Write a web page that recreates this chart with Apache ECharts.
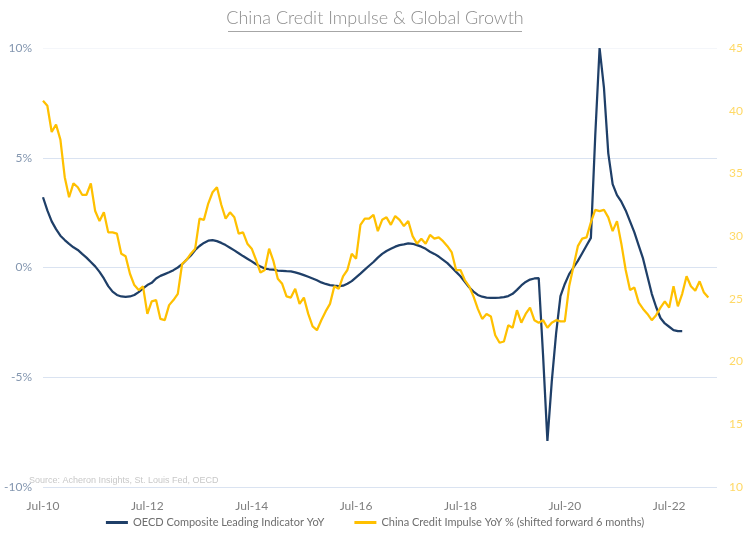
<!DOCTYPE html>
<html>
<head>
<meta charset="utf-8">
<script src="https://cdn.jsdelivr.net/npm/echarts@6/dist/echarts.min.js"></script>
<style>
html, body { margin: 0; padding: 0; background: #fff; }
#chart { width: 750px; height: 545px; }
</style>
</head>
<body>
<div id="chart"></div>
<script>
// months from Jul-10 to Jun-23
const monthNames = ["Jan", "Feb", "Mar", "Apr", "May", "Jun", "Jul", "Aug", "Sep", "Oct", "Nov", "Dec"];
const categories = [];
for (let i = 0; i < 156; i++) {
  const m = (6 + i) % 12;
  const y = 10 + Math.floor((6 + i) / 12);
  categories.push(monthNames[m] + "-" + y);
}

// OECD Composite Leading Indicator YoY (%), left axis
const oecdCli = [
  3.2, 2.6, 2.1, 1.75, 1.45, 1.25, 1.08, 0.92, 0.8, 0.62, 0.45, 0.25,
  0.05, -0.2, -0.5, -0.85, -1.1, -1.25, -1.32, -1.34, -1.32, -1.25, -1.12, -0.95,
  -0.8, -0.7, -0.5, -0.38, -0.3, -0.22, -0.12, 0.0, 0.15, 0.35, 0.55, 0.8,
  0.98, 1.12, 1.22, 1.25, 1.2, 1.12, 1.02, 0.9, 0.78, 0.65, 0.52, 0.4,
  0.28, 0.15, 0.05, -0.05, -0.08, -0.1, -0.14, -0.15, -0.17, -0.18, -0.22, -0.28,
  -0.35, -0.42, -0.5, -0.58, -0.68, -0.75, -0.8, -0.83, -0.85, -0.83, -0.74, -0.62,
  -0.45, -0.28, -0.1, 0.08, 0.25, 0.45, 0.62, 0.75, 0.85, 0.95, 1.02, 1.05,
  1.1, 1.08, 1.02, 0.95, 0.85, 0.72, 0.62, 0.5, 0.35, 0.2, 0.0, -0.2,
  -0.4, -0.65, -0.9, -1.1, -1.25, -1.33, -1.37, -1.38, -1.38, -1.37, -1.35, -1.3,
  -1.2, -1.02, -0.82, -0.66, -0.55, -0.5, -0.48, -4.0, -7.9, -5.2, -3.0, -1.3,
  -0.75, -0.3, 0.0, 0.3, 0.65, 1.0, 1.35, 6.0, 10.0, 8.2, 5.2, 3.8,
  3.3, 3.0, 2.6, 2.1, 1.6, 1.0, 0.4, -0.4, -1.2, -1.8, -2.3, -2.55,
  -2.7, -2.85, -2.9, -2.9
];

// China Credit Impulse YoY % (shifted forward 6 months), right axis
const chinaImpulse = [
  40.8, 40.4, 38.3, 38.9, 37.7, 34.7, 33.1, 34.2, 33.9, 33.3, 33.3, 34.2,
  32.0, 31.2, 31.9, 30.3, 30.3, 30.2, 28.6, 28.4, 27.0, 26.1, 25.7, 26.0,
  23.8, 24.8, 24.9, 23.4, 23.3, 24.5, 24.9, 25.4, 27.8, 28.1, 28.6, 29.0,
  31.4, 31.3, 32.6, 33.5, 33.9, 32.5, 31.4, 31.9, 31.5, 30.2, 30.3, 29.4,
  29.0, 28.1, 27.1, 27.3, 29.0, 28.0, 26.6, 26.2, 25.2, 25.1, 25.8, 24.6,
  25.1, 23.8, 22.8, 22.5, 23.3, 24.0, 24.6, 26.0, 25.8, 26.8, 27.3, 28.6,
  28.2, 30.9, 31.4, 31.4, 31.7, 30.4, 31.3, 31.5, 30.9, 31.6, 31.3, 30.8,
  31.2, 30.0, 29.4, 29.8, 29.4, 30.1, 29.8, 29.9, 29.6, 29.2, 28.7, 27.3,
  27.3, 26.5, 26.0, 25.2, 24.2, 23.4, 23.8, 23.6, 22.1, 21.5, 21.6, 22.9,
  22.7, 24.1, 23.1, 23.8, 24.3, 23.3, 23.1, 23.3, 22.7, 23.1, 23.3, 23.2,
  23.2, 26.0, 27.6, 29.2, 29.8, 29.9, 31.1, 32.1, 32.0, 32.1, 31.5, 30.4,
  31.2, 29.4, 27.3, 25.7, 25.9, 24.7, 24.2, 23.8, 23.3, 23.7, 24.3, 24.8,
  24.3, 26.0, 24.4, 25.4, 26.8, 26.0, 25.65, 26.4, 25.5, 25.1
];

const seriesNames = ["OECD Composite Leading Indicator YoY", "China Credit Impulse YoY % (shifted forward 6 months)"];

const myChart = echarts.init(document.getElementById("chart"));
const gridColor = "#DAE3F1";
const fontFamily = "Lato, 'Noto Sans', sans-serif";

const option = {
  animation: false,
  textStyle: { fontFamily: fontFamily },
  grid: { left: 43, right: 33, top: 48, bottom: 58, containLabel: false },
  graphic: [
    {
      type: "text",
      left: "center",
      top: 9,
      style: { text: "China Credit Impulse & Global Growth", fill: "#8C8C8C", font: "300 18px " + fontFamily }
    },
    {
      type: "rect",
      shape: { x: 228, y: 31, width: 294, height: 1 },
      style: { fill: "#A6A6A6" }
    },
    {
      type: "text",
      left: 29,
      top: 476,
      z: 10,
      style: { text: "Source: Acheron Insights, St. Louis Fed, OECD", fill: "#C8C8C8", font: "9px 'Liberation Sans', Arial, sans-serif" }
    }
  ],
  legend: {
    bottom: 12,
    left: "center",
    itemGap: 30,
    itemWidth: 22,
    itemHeight: 3,
    icon: "rect",
    textStyle: { color: "#6E6E6E", fontSize: 11, fontFamily: fontFamily },
    data: seriesNames
  },
  xAxis: {
    type: "category",
    data: categories,
    boundaryGap: false,
    axisLine: { show: false },
    axisTick: { show: false },
    axisLabel: {
      interval: 23,
      margin: 13,
      color: "#7F7F7F",
      fontSize: 12,
      fontFamily: fontFamily
    },
    splitLine: { show: false }
  },
  yAxis: [
    {
      type: "value",
      min: -10,
      max: 10,
      interval: 5,
      position: "left",
      axisLine: { show: false },
      axisTick: { show: false },
      axisLabel: { formatter: "{value}%", color: "#8497B0", fontSize: 12, margin: 11, fontFamily: fontFamily },
      splitLine: { lineStyle: { color: [gridColor, gridColor, gridColor, gridColor, "#F4F6FA"], width: 1 } }
    },
    {
      type: "value",
      min: 10,
      max: 45,
      interval: 5,
      position: "right",
      axisLine: { show: false },
      axisTick: { show: false },
      axisLabel: { color: "#FFD966", fontSize: 12, margin: 12, fontFamily: fontFamily },
      splitLine: { show: false }
    }
  ],
  series: [
    {
      name: seriesNames[0],
      type: "line",
      yAxisIndex: 0,
      data: oecdCli,
      showSymbol: false,
      symbol: "none",
      lineStyle: { color: "#1F3F68", width: 2.25 },
      itemStyle: { color: "#1F3F68" }
    },
    {
      name: seriesNames[1],
      type: "line",
      yAxisIndex: 1,
      data: chinaImpulse,
      showSymbol: false,
      symbol: "none",
      lineStyle: { color: "#FFC000", width: 2.25 },
      itemStyle: { color: "#FFC000" }
    }
  ]
};
myChart.setOption(option);
</script>
</body>
</html>
